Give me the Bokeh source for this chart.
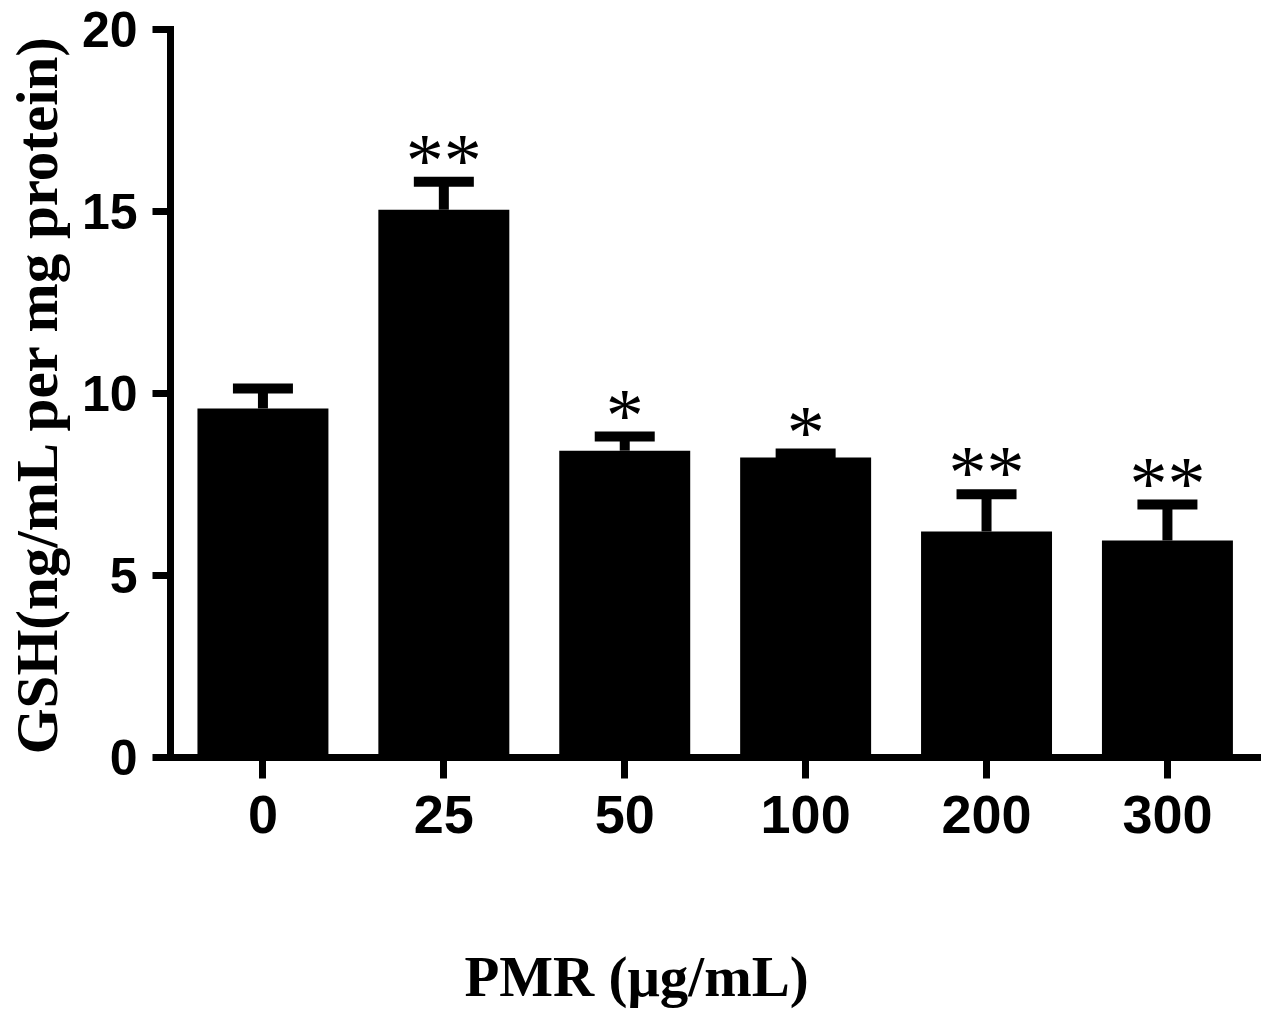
from bokeh.plotting import figure
from bokeh.models import ColumnDataSource, Range1d, FixedTicker, Whisker, TeeHead, LinearAxis, Title
from bokeh.embed import file_html
from bokeh.resources import INLINE

# ---- data ----
categories = ["0", "25", "50", "100", "200", "300"]
gsh_mean = [9.59, 15.05, 8.43, 8.24, 6.21, 5.96]
gsh_sem = [0.55, 0.77, 0.39, 0.11, 1.02, 0.99]
signif = ["", "**", "*", "*", "**", "**"]
y_ticks = [0, 5, 10, 15, 20]
x_title = "PMR (\u03bcg/mL)"
y_title = "GSH(ng/mL per mg protein)"

STAR_GAP = 0.6  # vertical gap (data units) between error cap and star marks

xs = list(range(len(categories)))
upper = [m + s for m, s in zip(gsh_mean, gsh_sem)]
star_y = [u + STAR_GAP for u in upper]

src = ColumnDataSource(dict(x=xs, top=gsh_mean, upper=upper, lower=gsh_mean,
                            star=signif, star_y=star_y))

p = figure(width=1261, height=1011, output_backend="svg", toolbar_location=None,
           x_range=Range1d(-0.511, 5.52), y_range=Range1d(0, 20),
           min_border_left=170, min_border_right=0, min_border_top=29, min_border_bottom=254)
p.outline_line_color = None
p.xgrid.visible = False
p.ygrid.visible = False
p.background_fill_color = "white"
p.border_fill_color = "white"

p.vbar(x="x", top="top", bottom=0, width=0.724, source=src,
       fill_color="black", line_color=None)

wh = Whisker(base="x", upper="upper", lower="lower", source=src, dimension="height",
             line_color="black", line_width=10,
             upper_head=TeeHead(size=60, line_width=10, line_color="black"),
             lower_head=None)
p.add_layout(wh)

p.text(x="x", y="star_y", text="star", source=src, text_align="center",
       text_baseline="alphabetic", text_font_size="76px", text_font_style="normal",
       text_font="Liberation Serif", text_color="black")

for ax in (p.xaxis[0], p.yaxis[0]):
    ax.axis_line_width = 7
    ax.axis_line_color = "black"
    ax.axis_line_cap = "square"
    ax.major_tick_line_width = 7
    ax.major_tick_line_color = "black"
    ax.major_tick_in = 0
    ax.minor_tick_line_color = None
    ax.major_label_text_font = "Liberation Sans"
    ax.major_label_text_font_style = "bold"
    ax.major_label_text_color = "black"

p.xaxis[0].ticker = FixedTicker(ticks=xs)
p.xaxis[0].major_label_overrides = {i: c for i, c in zip(xs, categories)}
p.xaxis[0].major_tick_out = 21
p.xaxis[0].major_label_standoff = 17
p.xaxis[0].major_label_text_font_size = "54px"

p.yaxis[0].ticker = FixedTicker(ticks=y_ticks)
p.yaxis[0].major_tick_out = 18
p.yaxis[0].major_label_standoff = 15
p.yaxis[0].major_label_text_font_size = "50px"
p.yaxis[0].axis_label = y_title
p.yaxis[0].axis_label_text_font = "Liberation Serif"
p.yaxis[0].axis_label_text_font_style = "bold"
p.yaxis[0].axis_label_text_font_size = "59px"
p.yaxis[0].axis_label_text_color = "black"
p.yaxis[0].axis_label_standoff = 9

# blank spacer axis (invisible tick, empty label): pushes the x title down
spacer = LinearAxis(ticker=FixedTicker(ticks=[2]), axis_line_color=None,
                    major_tick_line_color=None, minor_tick_line_color=None,
                    major_tick_out=107, major_tick_in=0, minor_tick_out=0, minor_tick_in=0,
                    major_label_standoff=0, major_label_overrides={2: ""},
                    major_label_text_font_size="1px")
p.add_layout(spacer, "below")

xt = Title(text=x_title, align="left", offset=294, standoff=0,
           text_font="Liberation Serif", text_font_style="bold",
           text_font_size="57px", text_color="black")
p.add_layout(xt, "below")

open("out.html", "w").write(file_html(p, INLINE))
